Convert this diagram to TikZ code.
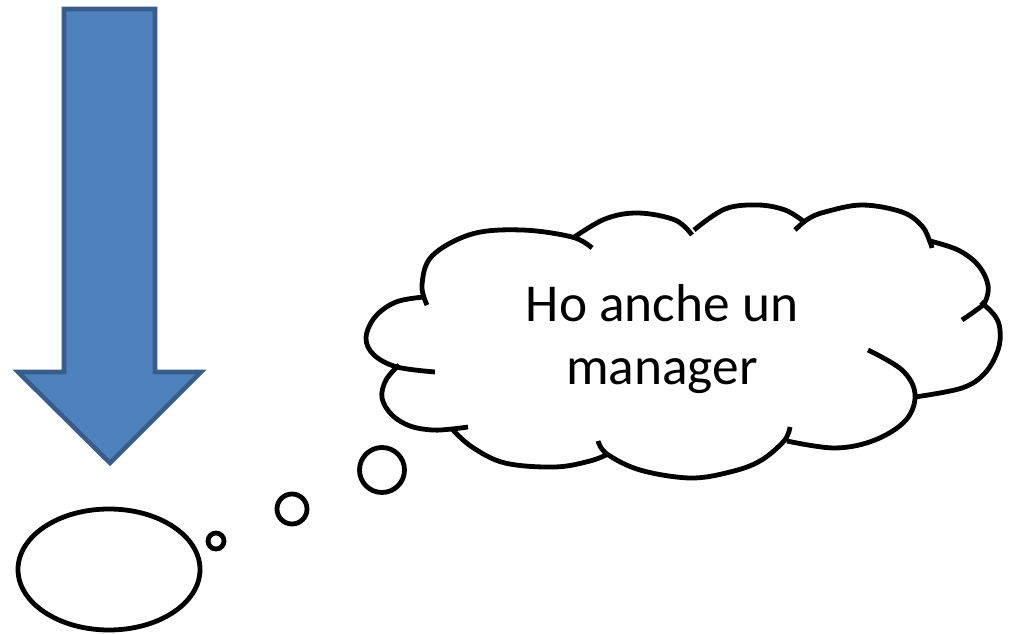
\documentclass[tikz,border=0pt]{standalone}
\usepackage{fontspec}
\setmainfont{Carlito}
\usetikzlibrary{shapes.geometric}
\definecolor{arrowfill}{HTML}{4F81BD}
\definecolor{arrowline}{HTML}{385D8A}
\begin{document}
\begin{tikzpicture}[x=0.75pt,y=-0.75pt,
  bigarrow/.style={fill=arrowfill, draw=arrowline, line width=3.4pt, line join=miter},
  outline/.style={draw=black, line width=3.6pt, line join=round},
  bump/.style={outline, smooth, tension=0.6},
  bubble/.style={outline, circle, inner sep=0pt, minimum size=#1},
  cloudtext/.style={font=\fontsize{40}{47}\selectfont, inner sep=0pt, anchor=base}]
\useasboundingbox (0,0) rectangle (1011,634);
% blue down arrow
\draw[bigarrow] (64,9) -- (155,9) -- (155,372) -- (201,372) -- (110,463) -- (18,372) -- (64,372) -- cycle;
% ellipse and thought bubbles
\node[outline, ellipse, minimum width=136.5pt, minimum height=90.75pt, inner sep=0pt] (head) at (109,569.5) {};
\node[bubble=12pt] (b1) at (216,541) {};
\node[bubble=22.5pt] (b2) at (292,509) {};
\node[bubble=33.75pt] (b3) at (382,470) {};
% cloud
\draw[bump] plot coordinates {(424,297) (396,302) (375,317) (366,338) (374,355) (397,367) (435,372)};
\draw[bump] plot coordinates {(399,365) (386,380) (382,398) (392,415) (410,426) (432,430) (452,429) (468,427)};
\draw[bump] plot coordinates {(452,429) (472,447) (505,463) (555,467) (590,461) (608,454)};
\draw[bump] plot coordinates {(598,441) (607,454) (640,470) (690,478) (730,472) (760,461) (784,441) (790,427)};
\draw[bump] plot coordinates {(787,441) (835,448) (875,440) (906,420) (915,394) (902,370) (868,350)};
\draw[bump] plot coordinates {(915,397) (962,388) (985,373) (998,350) (1000,330) (995,316) (981,302)};
\draw[bump] plot coordinates {(930,241) (958,250) (978,265) (988,285) (985,302) (975,311) (962,320)};
\draw[bump] plot coordinates {(795,230) (808,219) (825,212) (862,205) (902,212) (922,226) (930,242) (932,248)};
\draw[bump] plot coordinates {(694,230) (725,209) (758,205) (785,210) (803,221)};
\draw[bump] plot coordinates {(573,238) (605,219) (638,213) (675,220) (692,235)};
\draw[bump] plot coordinates {(427,305) (422,285) (432,256) (472,234) (522,230) (572,237) (592,248)};
\node[cloudtext] (t1) at (662,322) {Ho anche un};
\node[cloudtext] (t2) at (662,385) {manager};
\end{tikzpicture}
\end{document}
